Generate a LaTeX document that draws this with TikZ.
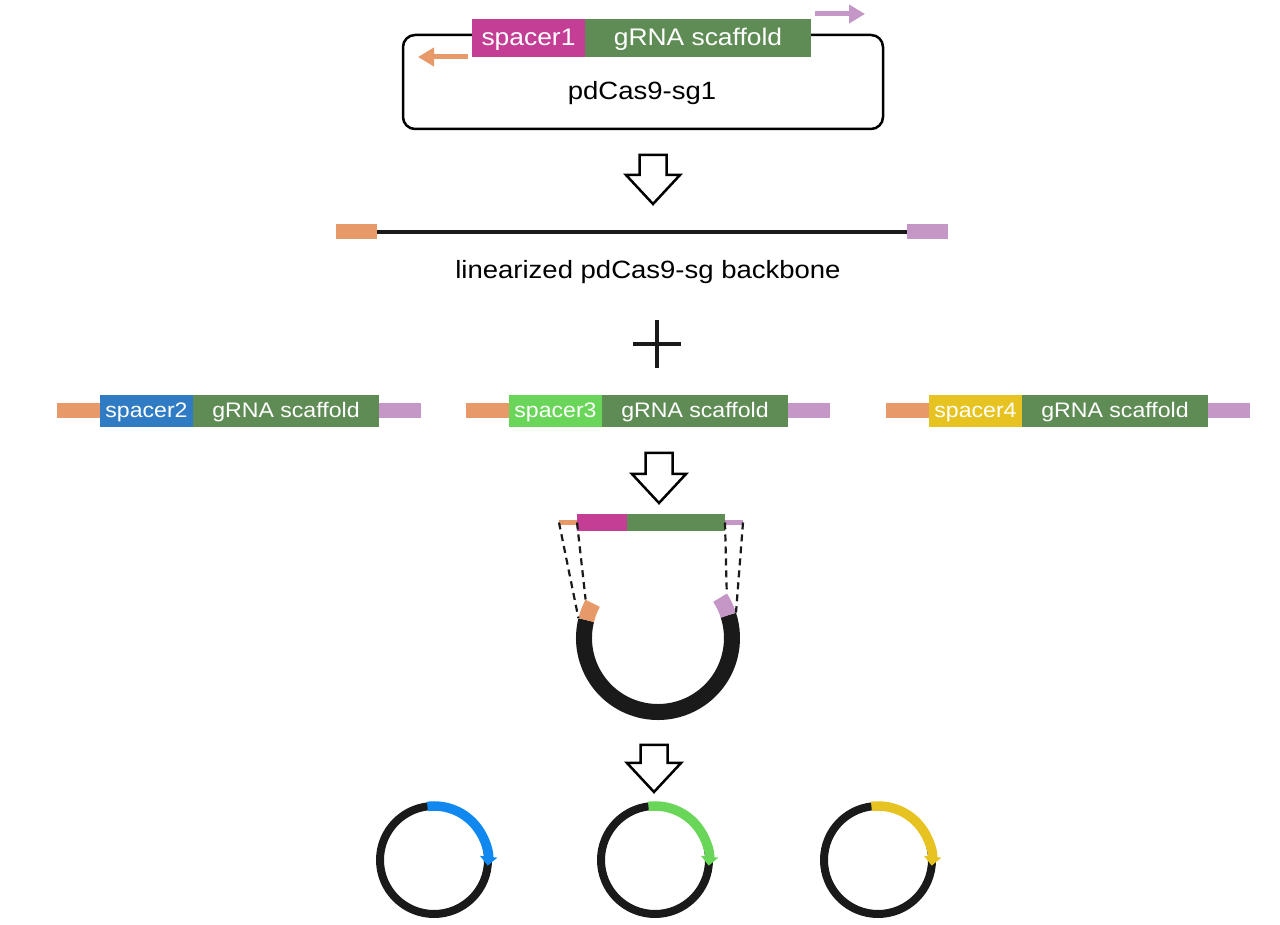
\documentclass[tikz,border=0pt]{standalone}
\usepackage{fontspec}
\setmainfont[FakeStretch=1.1]{Liberation Sans}
\usetikzlibrary{arrows.meta}
\definecolor{mag}{HTML}{C43E96}
\definecolor{grna}{HTML}{5F8C55}
\definecolor{orng}{HTML}{E8996A}
\definecolor{purp}{HTML}{C497C6}
\definecolor{sptwo}{HTML}{2F7BC4}
\definecolor{spthree}{HTML}{6AD659}
\definecolor{spfour}{HTML}{E6C320}
\definecolor{arcblue}{HTML}{1088F0}
\definecolor{ringblack}{HTML}{1A1A1A}
\tikzset{
  segbig/.style={rectangle, inner sep=0pt, outer sep=0pt, minimum height=38pt, text=white, font=\fontsize{24}{28}\selectfont, anchor=west, text depth=2pt},
  segsmall/.style={rectangle, inner sep=0pt, outer sep=0pt, minimum height=32pt, text=white, font=\fontsize{21}{25}\selectfont, anchor=west, text depth=1.5pt},
  flank/.style={rectangle, inner sep=0pt, outer sep=0pt, minimum height=15pt, anchor=west},
  thinflank/.style={rectangle, inner sep=0pt, outer sep=0pt, minimum height=5pt, anchor=west},
  midseg/.style={rectangle, inner sep=0pt, outer sep=0pt, minimum height=17pt, anchor=west},
  bigtext/.style={font=\fontsize{25}{30}\selectfont, inner sep=0pt},
  smallarrow/.style={line width=5pt, -{Triangle[width=18pt,length=16pt]}},
  hollowarrow/.pic={\draw[line width=2.5pt, line join=miter, fill=white]
      (-13.5,0) -- (13.5,0) -- (13.5,-#1) -- (27,-#1) -- (0,-#1-29) -- (-27,-#1) -- (-13.5,-#1) -- cycle;},
  ring/.style={circle, draw=ringblack, line width=8pt, minimum size=108pt, inner sep=0pt, outer sep=0pt},
  colarc/.style={line width=9.5pt, -{Triangle[width=17pt,length=9pt]}},
  dashline/.style={line width=2.2pt, dash pattern=on 7pt off 5pt, ringblack},
}
\begin{document}
\begin{tikzpicture}[x=1pt,y=1pt]
\useasboundingbox (0,0) rectangle (1280,924);
% top plasmid
\node[draw, rounded corners=12pt, line width=2.5pt, minimum width=480pt, minimum height=94pt, inner sep=0pt] (plasmid) at (643,842) {};
\node[bigtext] (plabel) at (642,831) {pdCas9-sg1};
\node[segbig, fill=mag, minimum width=113pt] (sp1) at (472,886) {spacer1};
\node[segbig, fill=grna, minimum width=226pt] (g1) at (sp1.east) {gRNA scaffold};
\coordinate (oa1) at (468,867);
\coordinate (oa2) at (418,867);
\draw[smallarrow, orng] (oa1) -- (oa2);
\coordinate (pa1) at (815,910);
\coordinate (pa2) at (865,910);
\draw[smallarrow, purp] (pa1) -- (pa2);
% arrow 1
\pic (arr1) at (653,769) {hollowarrow=20};
% linearized backbone
\node[flank, fill=orng, minimum width=41pt] (lo) at (336,692) {};
\node[flank, fill=purp, minimum width=41pt] (lp) at (907,692) {};
\draw[line width=4pt, ringblack] (lo.east) -- (lp.west);
\node[bigtext] (ltext) at (648,652) {linearized pdCas9-sg backbone};
% plus
\coordinate (pl) at (657,580);
\draw[line width=4pt, ringblack] ([xshift=-24pt]pl) -- ([xshift=24pt]pl) ([yshift=-24pt]pl) -- ([yshift=24pt]pl);
% inserts
\node[flank, fill=orng, minimum width=43pt] (o2) at (57,513) {};
\node[segsmall, fill=sptwo, minimum width=93pt] (s2) at (o2.east) {spacer2};
\node[segsmall, fill=grna, minimum width=186pt] (g2) at (s2.east) {gRNA scaffold};
\node[flank, fill=purp, minimum width=42pt] (p2) at (g2.east) {};
\node[flank, fill=orng, minimum width=43pt] (o3) at (466,513) {};
\node[segsmall, fill=spthree, minimum width=93pt] (s3) at (o3.east) {spacer3};
\node[segsmall, fill=grna, minimum width=186pt] (g3) at (s3.east) {gRNA scaffold};
\node[flank, fill=purp, minimum width=42pt] (p3) at (g3.east) {};
\node[flank, fill=orng, minimum width=43pt] (o4) at (886,513) {};
\node[segsmall, fill=spfour, minimum width=93pt] (s4) at (o4.east) {spacer4};
\node[segsmall, fill=grna, minimum width=186pt] (g4) at (s4.east) {gRNA scaffold};
\node[flank, fill=purp, minimum width=42pt] (p4) at (g4.east) {};
% arrow 2
\pic (arr2) at (659,471) {hollowarrow=21};
% assembly
\node[thinflank, fill=orng, minimum width=18pt] (mo) at (559,401.5) {};
\node[midseg, fill=mag, minimum width=50pt] (ms) at (mo.east) {};
\node[midseg, fill=grna, minimum width=98pt] (mg) at (ms.east) {};
\node[thinflank, fill=purp, minimum width=18pt] (mp) at (mg.east) {};
\coordinate (C) at (658,286);
\draw[line width=16pt, ringblack] ([shift={(166:74)}]C) arc[start angle=166, end angle=378, radius=74];
\draw[line width=16pt, orng] ([shift={(152:74)}]C) arc[start angle=152, end angle=166, radius=74];
\draw[line width=16pt, purp] ([shift={(18:74)}]C) arc[start angle=18, end angle=33, radius=74];
\coordinate (e1) at ([shift={(166:82)}]C);
\coordinate (e2) at ([shift={(152:82)}]C);
\coordinate (e3) at ([shift={(33:82)}]C);
\coordinate (e4) at ([shift={(18:82)}]C);
\draw[dashline] (mo.west) -- (e1);
\draw[dashline] (mo.east) -- (e2);
\draw[dashline] (mp.west) -- (e3);
\draw[dashline] (mp.east) -- (e4);
% arrow 3
\pic (arr3) at (654,179) {hollowarrow=18};
% final plasmids
\node[ring] (r1) at (434,64) {};
\node[ring] (r2) at (655,64) {};
\node[ring] (r3) at (878,64) {};
\draw[colarc, arcblue] (r1.97) arc[start angle=97, end angle=-6, radius=54];
\draw[colarc, spthree] (r2.97) arc[start angle=97, end angle=-6, radius=54];
\draw[colarc, spfour] (r3.97) arc[start angle=97, end angle=-6, radius=54];
\end{tikzpicture}
\end{document}
